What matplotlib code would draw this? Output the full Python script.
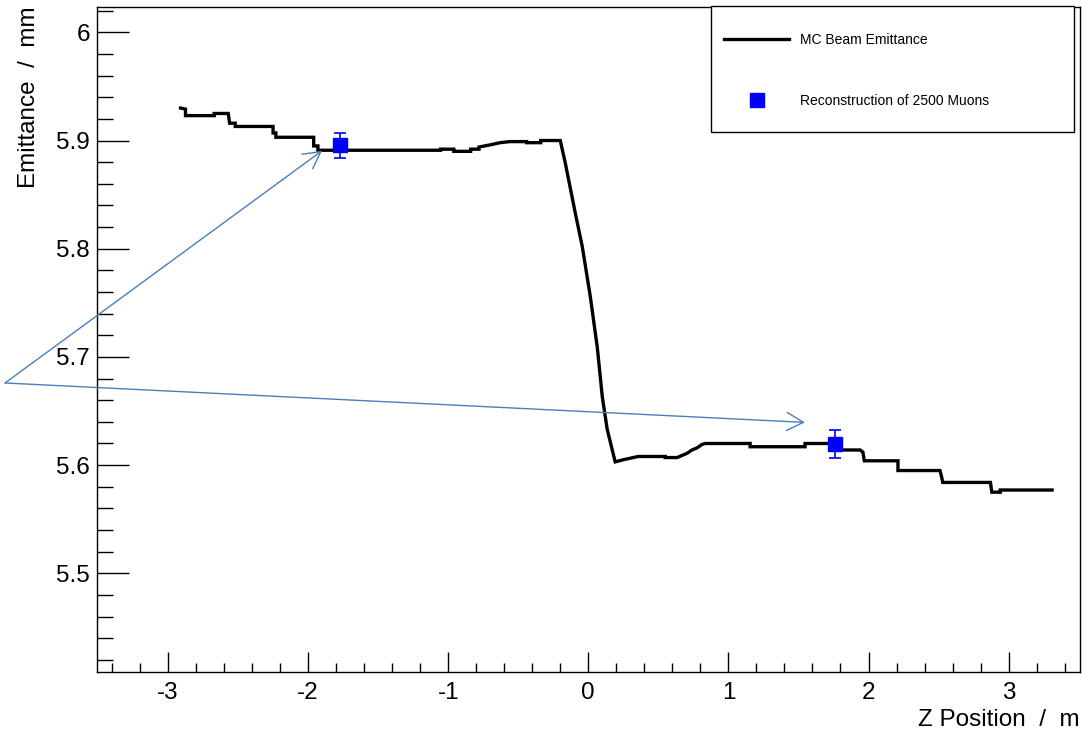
import numpy as np
from matplotlib import pyplot as plt
from matplotlib.patches import Rectangle

# MC emittance along the channel (z in m, emittance in mm)
z_mc = [-2.91, -2.875, -2.875, -2.67, -2.67, -2.57, -2.56, -2.52, -2.52, -2.25,
        -2.25, -2.23, -2.23, -1.96, -1.96, -1.93, -1.93, -1.055, -1.055, -0.96,
        -0.96, -0.84, -0.84, -0.78, -0.78, -0.70, -0.63, -0.56, -0.44, -0.44,
        -0.34, -0.34, -0.20, -0.164, -0.093, -0.043, 0.014, 0.064, 0.100, 0.135,
        0.192, 0.25, 0.356, 0.549, 0.549, 0.634, 0.67, 0.706, 0.74, 0.777,
        0.81, 0.834, 1.155, 1.155, 1.547, 1.547, 1.76, 1.80, 1.94, 1.96,
        1.97, 2.21, 2.21, 2.51, 2.52, 2.53, 2.87, 2.88, 2.94, 2.94,
        3.31]
emit_mc = [5.930, 5.929, 5.923, 5.923, 5.925, 5.925, 5.916, 5.916, 5.913, 5.913,
           5.907, 5.907, 5.903, 5.903, 5.895, 5.895, 5.891, 5.891, 5.892, 5.892,
           5.890, 5.890, 5.892, 5.892, 5.894, 5.896, 5.898, 5.899, 5.899, 5.898,
           5.898, 5.900, 5.900, 5.879, 5.833, 5.802, 5.756, 5.709, 5.663, 5.633,
           5.603, 5.605, 5.608, 5.608, 5.607, 5.607, 5.609, 5.611, 5.614, 5.616,
           5.619, 5.620, 5.620, 5.617, 5.617, 5.620, 5.620, 5.614, 5.614, 5.612,
           5.604, 5.604, 5.595, 5.595, 5.590, 5.584, 5.584, 5.575, 5.575, 5.577,
           5.577]

# reconstructed points
z_reco = [-1.772, 1.758]
emit_reco = [5.8958, 5.6195]
err_reco = [0.0116, 0.013]

# annotation arrows (one tail, two heads)
arrow_tail = (-4.163, 5.6759)
arrow_heads = [(-1.901, 5.8905), (1.546, 5.6395)]

FONT = "Liberation Sans"
plt.rcParams['font.family'] = [FONT, 'DejaVu Sans']

fig = plt.figure(figsize=(10.82, 7.33), dpi=100)
ax = fig.add_axes([0.0896, 0.0832, 0.9085, 0.9077])

line, = ax.plot(z_mc, emit_mc, color='black', lw=2.4, solid_joinstyle='miter',
                label='MC Beam Emittance')
ax.errorbar(z_reco, emit_reco, yerr=err_reco, fmt='none', ecolor='blue',
            elinewidth=1.2, capsize=4, capthick=1.2)
pts, = ax.plot(z_reco, emit_reco, 's', color='blue', ms=10, mec='blue',
               label='Reconstruction of 2500 Muons')

for head in arrow_heads:
    ax.annotate('', xy=head, xytext=arrow_tail, xycoords='data',
                annotation_clip=False,
                arrowprops=dict(arrowstyle='->,head_length=1.2,head_width=0.65',
                                color='#4a7ebb', lw=1.0, shrinkA=0, shrinkB=0))

ax.set_xlim(-3.507, 3.509)
ax.set_ylim(5.4088, 6.0237)
ax.set_xticks(np.arange(-3, 4, 1))
ax.set_xticks(np.arange(-3.4, 3.5, 0.2), minor=True)
ax.set_yticks([5.5, 5.6, 5.7, 5.8, 5.9, 6.0])
ax.set_yticks(np.arange(5.42, 6.021, 0.02), minor=True)
ax.set_xticklabels(['-3', '-2', '-1', '0', '1', '2', '3'])
ax.set_yticklabels(['5.5', '5.6', '5.7', '5.8', '5.9', '6'])

ax.tick_params(axis='both', which='both', direction='in', width=1.0,
               labelsize=17.5, colors='black')
ax.tick_params(axis='x', which='major', length=14.4, pad=7)
ax.tick_params(axis='x', which='minor', length=6.8)
ax.tick_params(axis='y', which='major', length=23, pad=5)
ax.tick_params(axis='y', which='minor', length=11.5)
for sp in ax.spines.values():
    sp.set_linewidth(1.0)

ax.set_xlabel('Z Position  /  m', fontsize=17.5, loc='right', labelpad=4)
ax.set_ylabel('Emittance  /  mm', fontsize=17.5, loc='top', labelpad=12)

# legend box drawn separately so the padding can match the original
ax.add_patch(Rectangle((0.6246, 0.8117), 0.3693, 0.1893, transform=ax.transAxes,
                       facecolor='white', edgecolor='black', lw=1.0,
                       clip_on=False, zorder=4))
leg = ax.legend(handles=[line, pts], loc='upper left',
                bbox_to_anchor=(0.6378, 0.961), borderaxespad=0, borderpad=0,
                fontsize=10, handlelength=4.7, handletextpad=0.8,
                labelspacing=3.4, frameon=False)
leg.set_zorder(5)

fig.savefig('out.png', dpi=100)
